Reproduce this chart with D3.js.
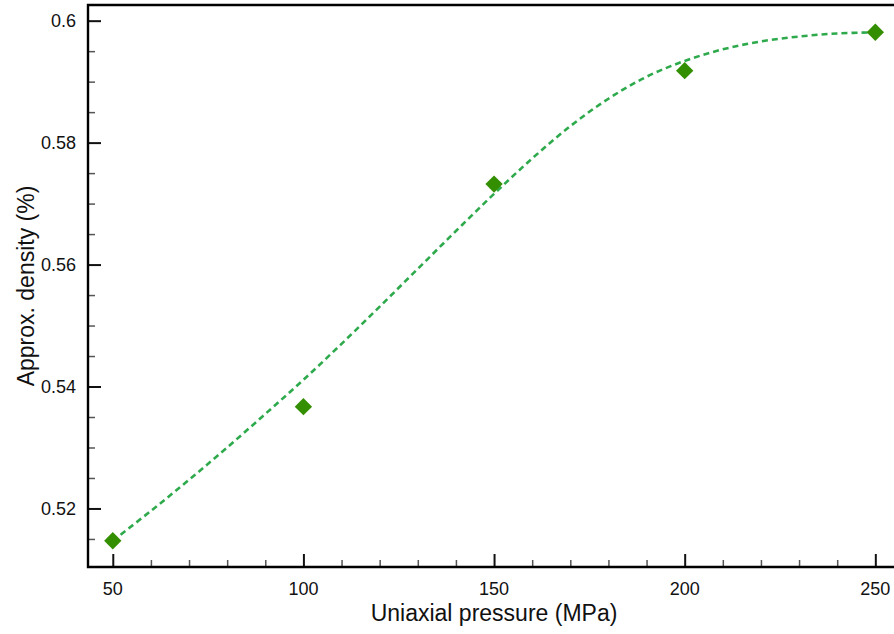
<!DOCTYPE html>
<html>
<head>
<meta charset="utf-8">
<script src="https://cdn.jsdelivr.net/npm/d3@7"></script>
<style>
  html, body { margin: 0; padding: 0; background: #fff; }
  svg { display: block; font-family: "Liberation Sans", Arial, Helvetica, sans-serif; }
</style>
</head>
<body>
<svg id="chart" width="894" height="634"></svg>
<script>
// Measured density at each uniaxial pressure
const pressure = [50, 100, 150, 200, 250];
const density = [0.5147, 0.5367, 0.5732, 0.5918, 0.5981];

// Fitted trend curve (dashed)
const fitPressure = [50, 60, 70, 80, 90, 100, 110, 120, 130, 140, 150, 160, 170, 180, 190, 200, 210, 220, 230, 240, 250];
const fitDensity  = [0.5147, 0.5196, 0.5247, 0.5300, 0.5355, 0.5411, 0.5470, 0.5531, 0.5593, 0.5655, 0.5716, 0.5774, 0.5827, 0.5872, 0.5908, 0.5934, 0.5953, 0.5966, 0.5974, 0.5979, 0.5981];

// Axis ticks
const xMajorTicks = [50, 100, 150, 200, 250];
const xMinorTicks = [60, 70, 80, 90, 110, 120, 130, 140, 160, 170, 180, 190, 210, 220, 230, 240];
const yMajorTicks = [0.52, 0.54, 0.56, 0.58, 0.6];
const yMinorTicks = [0.515, 0.525, 0.53, 0.535, 0.545, 0.55, 0.555, 0.565, 0.57, 0.575, 0.585, 0.59, 0.595];

const xTitle = "Uniaxial pressure (MPa)";
const yTitle = "Approx. density (%)";

const svg = d3.select("#chart");
const plotLeft = 88, plotRight = 894, plotTop = 5, plotBottom = 567;

const x = d3.scaleLinear().domain([43.5, 254.9]).range([plotLeft, plotRight]);
const y = d3.scaleLinear().domain([0.5104, 0.60257]).range([plotBottom, plotTop]);

// Fitted curve
const line = d3.line()
  .x((d, i) => x(fitPressure[i]))
  .y(d => y(d))
  .curve(d3.curveCatmullRom.alpha(0.5));

svg.append("path")
  .datum(fitDensity)
  .attr("d", line)
  .attr("fill", "none")
  .attr("stroke", "#2eaa4c")
  .attr("stroke-width", 2.6)
  .attr("stroke-dasharray", "6,4");

// Markers
svg.append("g").selectAll("path")
  .data(pressure)
  .join("path")
  .attr("d", d3.symbol(d3.symbolSquare, 150))
  .attr("transform", (d, i) => `translate(${x(d)},${y(density[i])}) rotate(45)`)
  .attr("fill", "#338f00");

// Y axis (ticks inside)
const yMajor = d3.axisRight(y).tickValues(yMajorTicks).tickSize(13).tickFormat("");
const yMinor = d3.axisRight(y).tickValues(yMinorTicks).tickSize(7).tickFormat("");
const gy1 = svg.append("g").attr("transform", `translate(${plotLeft},0)`).call(yMinor);
gy1.select(".domain").remove();
gy1.selectAll("line").attr("stroke", "#555").attr("stroke-width", 1.5);
const gy2 = svg.append("g").attr("transform", `translate(${plotLeft},0)`).call(yMajor);
gy2.select(".domain").remove();
gy2.selectAll("line").attr("stroke", "#111").attr("stroke-width", 2);

// X axis (ticks inside)
const xMajor = d3.axisTop(x).tickValues(xMajorTicks).tickSize(13).tickFormat("");
const xMinor = d3.axisTop(x).tickValues(xMinorTicks).tickSize(7).tickFormat("");
const gx1 = svg.append("g").attr("transform", `translate(0,${plotBottom})`).call(xMinor);
gx1.select(".domain").remove();
gx1.selectAll("line").attr("stroke", "#555").attr("stroke-width", 1.5);
const gx2 = svg.append("g").attr("transform", `translate(0,${plotBottom})`).call(xMajor);
gx2.select(".domain").remove();
gx2.selectAll("line").attr("stroke", "#111").attr("stroke-width", 2);

// Frame lines: left, bottom, top
svg.append("path")
  .attr("d", `M${plotRight},${plotTop}H${plotLeft}V${plotBottom}H${plotRight}`)
  .attr("fill", "none")
  .attr("stroke", "#000")
  .attr("stroke-width", 2.4);

// Tick labels
svg.append("g").selectAll("text")
  .data(yMajorTicks)
  .join("text")
  .attr("x", 76)
  .attr("y", d => y(d))
  .attr("dy", "0.36em")
  .attr("text-anchor", "end")
  .attr("font-size", 18)
  .attr("fill", "#111")
  .text(d => String(+d.toFixed(2)));

svg.append("g").selectAll("text")
  .data(xMajorTicks)
  .join("text")
  .attr("x", d => x(d))
  .attr("y", 595)
  .attr("text-anchor", "middle")
  .attr("font-size", 18)
  .attr("fill", "#111")
  .text(d => d);

// Axis titles
svg.append("text")
  .attr("x", 494)
  .attr("y", 621)
  .attr("text-anchor", "middle")
  .attr("font-size", 23)
  .attr("fill", "#111")
  .text(xTitle);

svg.append("text")
  .attr("transform", "translate(34,286) rotate(-90)")
  .attr("text-anchor", "middle")
  .attr("font-size", 23)
  .attr("fill", "#111")
  .text(yTitle);
</script>
</body>
</html>
